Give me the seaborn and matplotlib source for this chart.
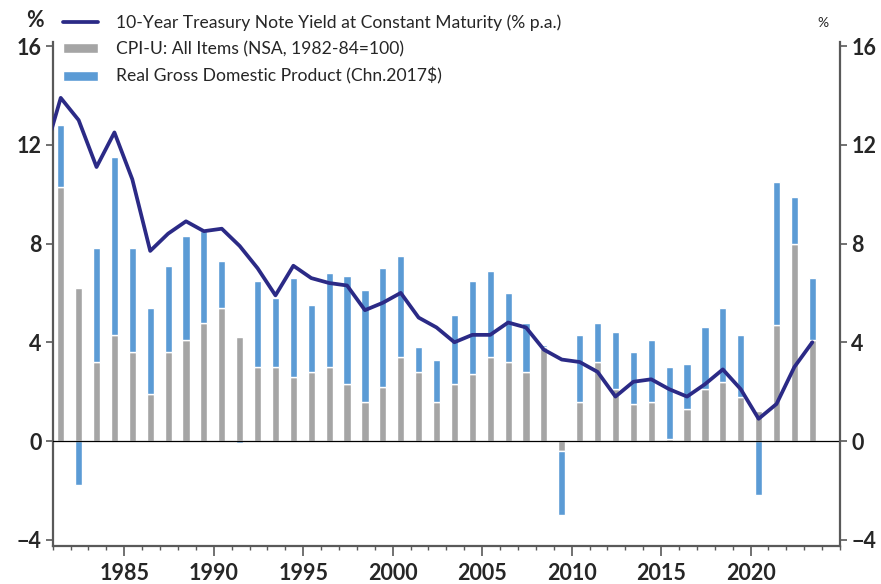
import matplotlib
matplotlib.use("Agg")
import matplotlib.pyplot as plt
from matplotlib.ticker import MultipleLocator
from matplotlib.lines import Line2D
from matplotlib.patches import Patch
import numpy as np
import pandas as pd
import seaborn as sns

# annual data
years = list(range(1981, 2024))
cpi = [10.3, 6.2, 3.2, 4.3, 3.6, 1.9, 3.6, 4.1, 4.8, 5.4,
       4.2, 3.0, 3.0, 2.6, 2.8, 3.0, 2.3, 1.6, 2.2, 3.4,
       2.8, 1.6, 2.3, 2.7, 3.4, 3.2, 2.8, 3.8, -0.4, 1.6,
       3.2, 2.1, 1.5, 1.6, 0.1, 1.3, 2.1, 2.4, 1.8, 1.2,
       4.7, 8.0, 4.1]
gdp = [2.5, -1.8, 4.6, 7.2, 4.2, 3.5, 3.5, 4.2, 3.7, 1.9,
       -0.1, 3.5, 2.8, 4.0, 2.7, 3.8, 4.4, 4.5, 4.8, 4.1,
       1.0, 1.7, 2.8, 3.8, 3.5, 2.8, 2.0, 0.1, -2.6, 2.7,
       1.6, 2.3, 2.1, 2.5, 2.9, 1.8, 2.5, 3.0, 2.5, -2.2,
       5.8, 1.9, 2.5]
# 10-year yield, first point (1980) only shows as the clipped start of the line
yield_years = list(range(1980, 2024))
yield_10y = [11.4, 13.9, 13.0, 11.1, 12.5, 10.6, 7.7, 8.4, 8.9, 8.5,
             8.6, 7.9, 7.0, 5.9, 7.1, 6.6, 6.4, 6.3, 5.3, 5.6,
             6.0, 5.0, 4.6, 4.0, 4.3, 4.3, 4.8, 4.6, 3.7, 3.3,
             3.2, 2.8, 1.8, 2.4, 2.5, 2.1, 1.8, 2.3, 2.9, 2.1,
             0.9, 1.5, 3.0, 4.0]

navy = "#2B2A86"
gray = "#A5A5A5"
blue = "#5B9BD5"
axis_col = "#595959"

sns.set_theme(style="white")
plt.rcParams["font.family"] = ["Lato", "DejaVu Sans"]

df = pd.DataFrame({"year": years, "cpi": cpi, "gdp": gdp})
df["x"] = df["year"] + 0.45
# excel style stacking: blue sits on gray when same sign, else starts at zero
df["gdp_bottom"] = np.where(np.sign(df["cpi"]) == np.sign(df["gdp"]), df["cpi"], 0.0)
line_df = pd.DataFrame({"x": np.array(yield_years) + 0.45, "y": yield_10y})

fig = plt.figure(figsize=(8.81, 5.84), dpi=100)
ax = fig.add_axes([0.0598, 0.0652, 0.8937, 0.8623])

ax.bar(df["x"], df["cpi"], width=0.4, color=gray, zorder=2)
ax.bar(df["x"], df["gdp"], bottom=df["gdp_bottom"], width=0.4, color=blue, zorder=2)
ax.axhline(0, color="black", lw=0.9, zorder=3)
sns.lineplot(data=line_df, x="x", y="y", ax=ax, color=navy, lw=2.7, zorder=4)

ax.set_xlim(1981, 2025)
ax.set_ylim(-4.25, 16.15)
ax.set_xlabel("")
ax.set_ylabel("")

ax.xaxis.set_minor_locator(MultipleLocator(1))
ax.set_xticks([1985, 1990, 1995, 2000, 2005, 2010, 2015, 2020])
ax.yaxis.set_major_locator(MultipleLocator(4))

for s in ["top", "right"]:
    ax.spines[s].set_visible(False)
for s in ["left", "bottom"]:
    ax.spines[s].set_color(axis_col)
    ax.spines[s].set_linewidth(1.6)

ax.tick_params(axis="x", which="major", direction="out", length=7, width=1.2,
               color=axis_col, bottom=True, labelsize=15.5, pad=5)
ax.tick_params(axis="x", which="minor", direction="out", length=3, width=1.0,
               color=axis_col, bottom=True)
ax.tick_params(axis="y", direction="out", length=5, width=1.2, color=axis_col,
               left=True, labelsize=15.5, pad=3)
for lab in ax.get_xticklabels() + ax.get_yticklabels():
    lab.set_fontweight("bold")

ax2 = ax.twinx()
ax2.set_ylim(ax.get_ylim())
ax2.yaxis.set_major_locator(MultipleLocator(4))
for s in ["top", "left", "bottom"]:
    ax2.spines[s].set_visible(False)
ax2.spines["right"].set_color(axis_col)
ax2.spines["right"].set_linewidth(1.6)
ax2.tick_params(axis="y", direction="out", length=5, width=1.2, color=axis_col,
                right=True, labelsize=15.5, pad=3)
for lab in ax2.get_yticklabels():
    lab.set_fontweight("bold")

fig.text(0.040, 0.965, "%", fontsize=15.5, fontweight="bold", ha="center", va="center")
fig.text(0.934, 0.960, "%", fontsize=10, ha="center", va="center")

handles = [Line2D([0], [0], color=navy, lw=2.7),
           Patch(facecolor=gray), Patch(facecolor=blue)]
labels = ["10-Year Treasury Note Yield at Constant Maturity (% p.a.)",
          "CPI-U: All Items (NSA, 1982-84=100)",
          "Real Gross Domestic Product (Chn.2017$)"]
leg = ax.legend(handles, labels, loc="upper left", bbox_to_anchor=(0.0, 1.077),
                frameon=False, fontsize=12.6, handlelength=2.0, handleheight=0.5,
                labelspacing=0.6, handletextpad=1.0, borderaxespad=0.2)

fig.savefig("out.png", dpi=100)
